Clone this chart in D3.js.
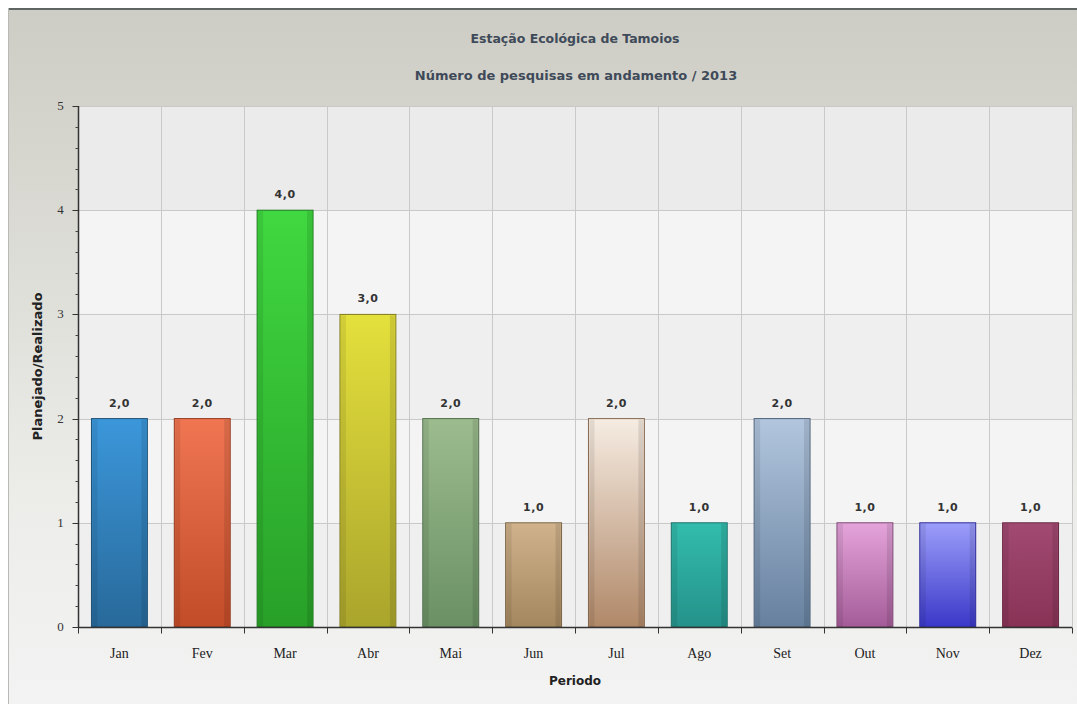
<!DOCTYPE html>
<html>
<head>
<meta charset="utf-8">
<script src="https://cdn.jsdelivr.net/npm/d3@7"></script>
<style>
  html, body { margin: 0; padding: 0; background: #ffffff; }
  svg { display: block; }
</style>
</head>
<body>
<svg id="chart" width="1077" height="704"></svg>
<script>
// Monthly count of ongoing research projects, 2013
const months = ["Jan", "Fev", "Mar", "Abr", "Mai", "Jun", "Jul", "Ago", "Set", "Out", "Nov", "Dez"];
const values = [2, 2, 4, 3, 2, 1, 2, 1, 2, 1, 1, 1];
const yTicks = [0, 1, 2, 3, 4, 5];
// top / bottom shade of every bar
const barTop = ["#3b97da", "#f07652", "#40d840", "#e4e03c", "#9cbc8e", "#d0b28c", "#f6ece2", "#32bcac", "#b2c6de", "#e4a4da", "#9c9efa", "#a24a72"];
const barBottom = ["#28699a", "#c24c28", "#28a028", "#aaa52c", "#6a9064", "#a4875e", "#b08868", "#25928a", "#66809e", "#a45c98", "#3a38c8", "#883356"];

const titleText = "Estação Ecológica de Tamoios";
const subtitleText = "Número de pesquisas em andamento / 2013";
const yTitle = "Planejado/Realizado";
const xTitle = "Periodo";

const svg = d3.select("#chart");
const W = 1077, H = 704;
const plot = { left: 78, right: 1072, top: 106, bottom: 627 };

const defs = svg.append("defs");

// panel background: grey at the top fading to light grey
const bg = defs.append("linearGradient").attr("id", "bg").attr("x1", 0).attr("y1", 0).attr("x2", 0).attr("y2", 1);
bg.append("stop").attr("offset", "0%").attr("stop-color", "#cdcdc5");
bg.append("stop").attr("offset", "12%").attr("stop-color", "#d2d2ca");
bg.append("stop").attr("offset", "70%").attr("stop-color", "#ecece9");
bg.append("stop").attr("offset", "100%").attr("stop-color", "#f3f3f3");

svg.append("rect").attr("x", 8).attr("y", 8).attr("width", W - 8).attr("height", H - 8).attr("fill", "url(#bg)");
svg.append("line").attr("x1", 8).attr("x2", W).attr("y1", 9).attr("y2", 9).attr("stroke", "#5f6562").attr("stroke-width", 2);
svg.append("line").attr("x1", 8.5).attr("x2", 8.5).attr("y1", 8).attr("y2", H).attr("stroke", "#b9bab6").attr("stroke-width", 1);

const x = d3.scaleBand().domain(months).range([plot.left, plot.right]).paddingInner(0).paddingOuter(0);
const y = d3.scaleLinear().domain([0, 5]).range([plot.bottom, plot.top]);

// alternating horizontal bands in the plot area
const bands = d3.range(0, 5);
svg.append("g").selectAll("rect").data(bands).join("rect")
  .attr("x", plot.left).attr("width", plot.right - plot.left)
  .attr("y", d => y(d + 1)).attr("height", d => y(d) - y(d + 1))
  .attr("fill", d => (d % 2 === 0) ? "#efefef" : "#f4f4f4");
svg.append("rect").attr("x", plot.left).attr("y", y(5)).attr("width", plot.right - plot.left).attr("height", y(4) - y(5)).attr("fill", "#ebebeb");

// grid lines
const grid = svg.append("g");
grid.selectAll("line.h").data(yTicks.filter(d => d > 0)).join("line")
  .attr("class", "h")
  .attr("x1", plot.left).attr("x2", plot.right)
  .attr("y1", d => Math.round(y(d)) + 0.5).attr("y2", d => Math.round(y(d)) + 0.5)
  .attr("stroke", "#c9c9c9");
grid.selectAll("line.v").data(months.slice(1).concat(["end"])).join("line")
  .attr("class", "v")
  .attr("x1", (d, i) => Math.round(plot.left + (i + 1) * x.bandwidth()) + 0.5)
  .attr("x2", (d, i) => Math.round(plot.left + (i + 1) * x.bandwidth()) + 0.5)
  .attr("y1", plot.top).attr("y2", plot.bottom)
  .attr("stroke", "#c9c9c9");

// bar gradients
months.forEach((m, i) => {
  const g = defs.append("linearGradient").attr("id", "bar" + i).attr("x1", 0).attr("y1", 0).attr("x2", 0).attr("y2", 1);
  g.append("stop").attr("offset", "0%").attr("stop-color", barTop[i]);
  g.append("stop").attr("offset", "100%").attr("stop-color", barBottom[i]);
});

const barW = x.bandwidth() * 0.675;
const bars = svg.append("g");
bars.selectAll("rect.bar").data(values).join("rect")
  .attr("class", "bar")
  .attr("x", (d, i) => x(months[i]) + (x.bandwidth() - barW) / 2)
  .attr("y", d => y(d))
  .attr("width", barW)
  .attr("height", d => y(0) - y(d))
  .attr("fill", (d, i) => `url(#bar${i})`)
  .attr("stroke", (d, i) => d3.color(barBottom[i]).darker(0.8))
  .attr("stroke-width", 1);
// soft shading strips for a rounded look
bars.selectAll("rect.shadeL").data(values).join("rect")
  .attr("class", "shadeL")
  .attr("x", (d, i) => x(months[i]) + (x.bandwidth() - barW) / 2 + 1)
  .attr("y", d => y(d) + 1)
  .attr("width", 5)
  .attr("height", d => y(0) - y(d) - 1)
  .attr("fill", "#000").attr("opacity", 0.08);
bars.selectAll("rect.shadeR").data(values).join("rect")
  .attr("class", "shadeR")
  .attr("x", (d, i) => x(months[i]) + (x.bandwidth() + barW) / 2 - 6)
  .attr("y", d => y(d) + 1)
  .attr("width", 5)
  .attr("height", d => y(0) - y(d) - 1)
  .attr("fill", "#000").attr("opacity", 0.1);

// value labels
svg.append("g").selectAll("text").data(values).join("text")
  .attr("x", (d, i) => x(months[i]) + x.bandwidth() / 2)
  .attr("y", d => y(d) - 12)
  .attr("text-anchor", "middle")
  .attr("font-family", "DejaVu Sans, sans-serif")
  .attr("font-weight", "bold")
  .attr("font-size", 11)
  .attr("letter-spacing", 0.5)
  .attr("fill", "#333")
  .text(d => d.toFixed(1).replace(".", ","));

// y axis with minor ticks
const yAxis = svg.append("g").attr("transform", `translate(${plot.left + 0.5},0)`);
yAxis.append("line").attr("x1", 0).attr("x2", 0).attr("y1", plot.top).attr("y2", plot.bottom).attr("stroke", "#333").attr("stroke-width", 1.5);
const minor = d3.range(0, 5.001, 0.2).map(v => Math.round(v * 10) / 10).filter(v => !yTicks.includes(v));
yAxis.selectAll("line.minor").data(minor).join("line")
  .attr("class", "minor")
  .attr("x1", -3).attr("x2", 0)
  .attr("y1", d => Math.round(y(d)) + 0.5).attr("y2", d => Math.round(y(d)) + 0.5)
  .attr("stroke", "#444");
yAxis.selectAll("line.major").data(yTicks).join("line")
  .attr("class", "major")
  .attr("x1", -6).attr("x2", 0)
  .attr("y1", d => Math.round(y(d)) + 0.5).attr("y2", d => Math.round(y(d)) + 0.5)
  .attr("stroke", "#333");
yAxis.selectAll("text").data(yTicks).join("text")
  .attr("x", -18).attr("y", d => y(d) + 4)
  .attr("text-anchor", "middle")
  .attr("font-family", "Liberation Serif, serif")
  .attr("font-size", 13)
  .attr("fill", "#333")
  .text(d => d);

// x axis
const xAxis = svg.append("g").attr("transform", `translate(0,${plot.bottom + 0.5})`);
xAxis.append("line").attr("x1", plot.left).attr("x2", plot.right).attr("y1", 0).attr("y2", 0).attr("stroke", "#333").attr("stroke-width", 1.5);
xAxis.selectAll("line.tick").data(d3.range(0, months.length + 1)).join("line")
  .attr("class", "tick")
  .attr("x1", i => Math.round(plot.left + i * x.bandwidth()) + 0.5)
  .attr("x2", i => Math.round(plot.left + i * x.bandwidth()) + 0.5)
  .attr("y1", 0).attr("y2", 6)
  .attr("stroke", "#333");
xAxis.selectAll("text").data(months).join("text")
  .attr("x", d => x(d) + x.bandwidth() / 2)
  .attr("y", 30)
  .attr("text-anchor", "middle")
  .attr("font-family", "Liberation Serif, serif")
  .attr("font-size", 14)
  .attr("fill", "#222")
  .text(d => d);

// titles
const titleColor = "#3f4a59";
svg.append("text").attr("x", 575).attr("y", 43).attr("text-anchor", "middle")
  .attr("font-family", "DejaVu Sans, sans-serif").attr("font-weight", "bold").attr("font-size", 12.5)
  .attr("fill", titleColor).text(titleText);
svg.append("text").attr("x", 576).attr("y", 80).attr("text-anchor", "middle")
  .attr("font-family", "DejaVu Sans, sans-serif").attr("font-weight", "bold").attr("font-size", 13)
  .attr("fill", titleColor).text(subtitleText);

svg.append("text").attr("transform", `translate(42,${(plot.top + plot.bottom) / 2}) rotate(-90)`)
  .attr("text-anchor", "middle")
  .attr("font-family", "DejaVu Sans, sans-serif").attr("font-weight", "bold").attr("font-size", 13)
  .attr("fill", "#222").text(yTitle);
svg.append("text").attr("x", 575).attr("y", 685).attr("text-anchor", "middle")
  .attr("font-family", "DejaVu Sans, sans-serif").attr("font-weight", "bold").attr("font-size", 12)
  .attr("fill", "#222").text(xTitle);
</script>
</body>
</html>
